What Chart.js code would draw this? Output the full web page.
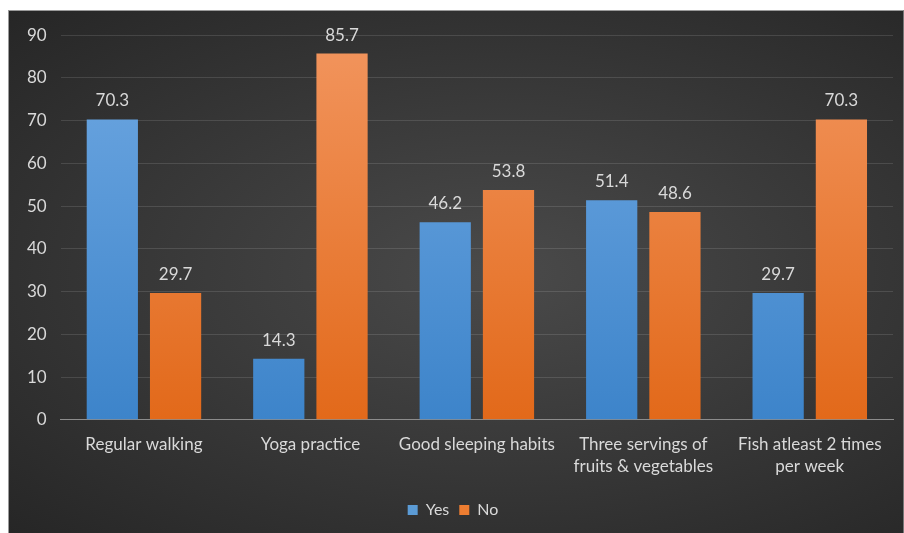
<!DOCTYPE html>
<html>
<head>
<meta charset="utf-8">
<script src="https://cdn.jsdelivr.net/npm/chart.js@4/dist/chart.umd.min.js"></script>
<style>
  html, body { margin: 0; padding: 0; background: #fff; }
  #wrap {
    position: absolute; left: 8px; top: 10px; width: 894px; height: 523px;
    border-left: 1px solid #9a9a9a; border-top: 1px solid #9a9a9a; border-right: 1px solid #777;
    background: radial-gradient(ellipse at 55% 50%, #4a4a4a 0%, #3a3a3a 45%, #262626 100%);
  }
</style>
</head>
<body>
<div id="wrap"><canvas id="c"></canvas></div>
<script>
const categories = [
  'Regular walking',
  'Yoga practice',
  'Good sleeping habits',
  ['Three servings of', 'fruits & vegetables'],
  ['Fish atleast 2 times', 'per week']
];
const yesValues = [70.3, 14.3, 46.2, 51.4, 29.7];
const noValues = [29.7, 85.7, 53.8, 48.6, 70.3];
const seriesNames = ['Yes', 'No'];

const TEXT = '#d9d9d9';
const FONT = 'Lato, "Open Sans", sans-serif';

function vGrad(top, bottom) {
  return ctx => {
    const area = ctx.chart.chartArea;
    if (!area) return top;
    const g = ctx.chart.ctx.createLinearGradient(0, area.top, 0, area.bottom);
    g.addColorStop(0, top);
    g.addColorStop(1, bottom);
    return g;
  };
}

const valueLabels = {
  id: 'valueLabels',
  afterDatasetsDraw(chart) {
    const ctx = chart.ctx;
    ctx.save();
    ctx.fillStyle = TEXT;
    ctx.font = '17px ' + FONT;
    ctx.textAlign = 'center';
    ctx.textBaseline = 'bottom';
    chart.data.datasets.forEach((ds, i) => {
      chart.getDatasetMeta(i).data.forEach((bar, j) => {
        ctx.fillText(ds.data[j].toFixed(1), bar.x, bar.y - 10);
      });
    });
    ctx.restore();
  }
};

new Chart(document.getElementById('c'), {
  type: 'bar',
  data: {
    labels: categories,
    datasets: [
      { label: seriesNames[0], data: yesValues, backgroundColor: vGrad('#6fa8e2', '#3d84ca'), legendColor: '#5b9bd5' },
      { label: seriesNames[1], data: noValues, backgroundColor: vGrad('#f2955e', '#e2691a'), legendColor: '#ed7d31' }
    ]
  },
  options: {
    responsive: true,
    maintainAspectRatio: false,
    animation: false,
    categoryPercentage: 0.76,
    barPercentage: 0.81,
    layout: { padding: { top: 10, right: 10, left: 4, bottom: 6 } },
    scales: {
      x: {
        grid: { display: false },
        border: { display: true, color: '#8c8c8c', width: 1 },
        ticks: { color: TEXT, font: { family: FONT, size: 17, lineHeight: 1.3 }, maxRotation: 0, autoSkip: false, padding: 6 },
        afterFit: scale => { scale.height += 8; }
      },
      y: {
        min: 0, max: 90,
        ticks: { stepSize: 10, color: TEXT, font: { family: FONT, size: 17 }, padding: 14 },
        grid: { color: 'rgba(255,255,255,0.12)', drawTicks: false },
        border: { display: false }
      }
    },
    plugins: {
      legend: {
        position: 'bottom',
        labels: {
          color: TEXT,
          font: { family: FONT, size: 16 },
          boxWidth: 10, boxHeight: 10, padding: 10,
          generateLabels: chart => chart.data.datasets.map((ds, i) => ({
            text: ds.label, fillStyle: ds.legendColor, strokeStyle: ds.legendColor,
            lineWidth: 0, fontColor: TEXT, datasetIndex: i, hidden: false
          }))
        }
      },
      tooltip: { enabled: false }
    }
  },
  plugins: [valueLabels]
});
</script>
</body>
</html>
